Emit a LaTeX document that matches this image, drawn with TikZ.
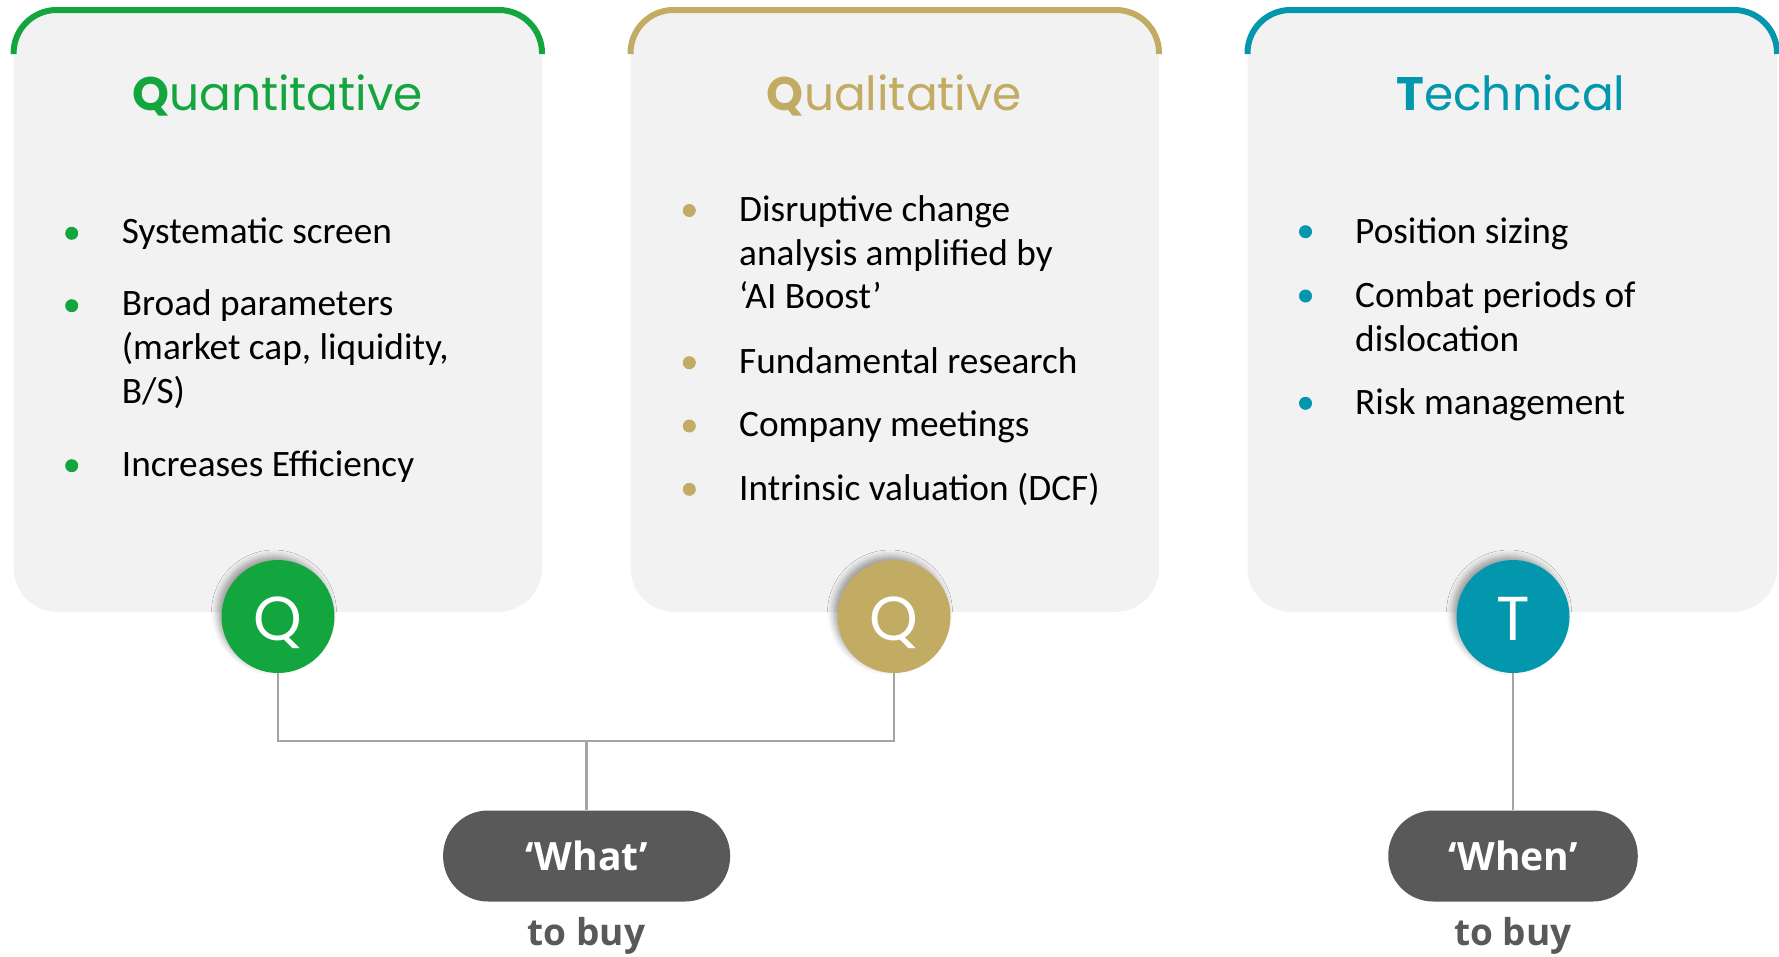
\documentclass[tikz,border=0pt]{standalone}
\usepackage{fontspec}
\setmainfont{Carlito}
\newfontfamily\titlefont{Poppins}
\newfontfamily\pillfont{Open Sans}
\usetikzlibrary{shadows.blur}
\definecolor{qgreen}{RGB}{19,165,62}
\definecolor{qgold}{RGB}{194,171,99}
\definecolor{tteal}{RGB}{3,151,174}
\definecolor{panelgray}{RGB}{242,242,242}
\definecolor{pillgray}{RGB}{89,89,89}
\definecolor{linegray}{RGB}{165,165,165}
\begin{document}
\begin{tikzpicture}[x=1pt,y=-1pt,
  paneltop/.style={line width=6pt, rounded corners=43pt},
  paneltitle/.style={anchor=base, inner sep=0pt, font=\titlefont\fontsize{47}{56}\selectfont},
  bodytext/.style={anchor=base west, inner sep=0pt, text=black, font=\fontsize{37.3}{44}\selectfont},
  dot/.style={circle, inner sep=0pt, minimum size=13pt},
  badge/.style={circle, inner sep=0pt, minimum size=113pt,
     blur shadow={shadow xshift=-4pt, shadow yshift=4pt, shadow blur radius=6pt, shadow opacity=35}},
  badgeletter/.style={anchor=base, inner sep=0pt, text=white, font=\titlefont\fontsize{62}{70}\selectfont},
  pill/.style={rounded corners=45pt, fill=pillgray, minimum width=#1, minimum height=91pt, inner sep=0pt,
     text=white, font=\pillfont\bfseries\fontsize{39}{46}\selectfont},
  tobuy/.style={anchor=base, inner sep=0pt, text=pillgray, font=\pillfont\bfseries\fontsize{37}{44}\selectfont},
  conn/.style={draw=linegray, line width=2.7pt}]
\useasboundingbox (0,0) rectangle (1779,956);

% panels
\fill[panelgray, rounded corners=44pt] (13.6,10) rectangle (542,612);
\fill[panelgray, rounded corners=44pt] (630.5,10) rectangle (1159,612);
\fill[panelgray, rounded corners=44pt] (1247.5,10) rectangle (1777,612);
\draw[paneltop, qgreen] (13.6,54) -- (13.6,10) -- (542,10) -- (542,54);
\draw[paneltop, qgold] (630.5,54) -- (630.5,10) -- (1159,10) -- (1159,54);
\draw[paneltop, tteal] (1247.5,54) -- (1247.5,10) -- (1777,10) -- (1777,54);

% titles
\node[paneltitle, text=qgreen] (title1) at (277.5,110) {\textbf{Q}uantitative};
\node[paneltitle, text=qgold] (title2) at (894.5,110) {\textbf{Q}ualitative};
\node[paneltitle, text=tteal] (title3) at (1511,110) {\textbf{T}echnical};

% panel 1 items
\node[dot, fill=qgreen] (b11) at (71.7,233.3) {};
\node[bodytext] (t11) at (121.7,243.3) {Systematic screen};
\node[dot, fill=qgreen] (b12) at (71.7,305.7) {};
\node[bodytext] (t12a) at (121.7,315) {Broad parameters};
\node[bodytext] (t12b) at (121.7,359) {(market cap, liquidity,};
\node[bodytext] (t12c) at (121.7,403.3) {B/S)};
\node[dot, fill=qgreen] (b13) at (71.7,465.7) {};
\node[bodytext] (t13) at (121.7,476.7) {Increases Efficiency};

% panel 2 items
\node[dot, fill=qgold] (b21) at (689.3,210.5) {};
\node[bodytext] (t21a) at (739,221.7) {Disruptive change};
\node[bodytext] (t21b) at (739,265) {analysis amplified by};
\node[bodytext] (t21c) at (739,308.3) {‘AI Boost’};
\node[dot, fill=qgold] (b22) at (689.3,362.7) {};
\node[bodytext] (t22) at (739,373.3) {Fundamental research};
\node[dot, fill=qgold] (b23) at (689.3,426) {};
\node[bodytext] (t23) at (739,436.7) {Company meetings};
\node[dot, fill=qgold] (b24) at (689.3,489.3) {};
\node[bodytext] (t24) at (739,500) {Intrinsic valuation (DCF)};

% panel 3 items
\node[dot, fill=tteal] (b31) at (1305.5,231.7) {};
\node[bodytext] (t31) at (1355,243.3) {Position sizing};
\node[dot, fill=tteal] (b32) at (1305.5,296) {};
\node[bodytext] (t32a) at (1355,307.3) {Combat periods of};
\node[bodytext] (t32b) at (1355,351.7) {dislocation};
\node[dot, fill=tteal] (b33) at (1305.5,403.3) {};
\node[bodytext] (t33) at (1355,414) {Risk management};

% pills
\node[pill=287pt] (what) at (586.6,856) {‘What’};
\node[tobuy] (buy1) at (586.6,945) {to buy};
\node[pill=249.5pt] (when) at (1513,856) {‘When’};
\node[tobuy] (buy2) at (1513,945) {to buy};

% connectors
\coordinate (j) at (586.6,741);
\node[badge, fill=qgreen] (q1) at (278,616.5) {};
\node[badge, fill=qgold] (q2) at (894,616.5) {};
\node[badge, fill=tteal] (t1) at (1513,616.5) {};
\draw[conn] (q1.south) |- (j) -| (q2.south);
\draw[conn] (j) -- (what.north);
\draw[conn] (t1.south) -- (when.north);

% badge letters
\node[badgeletter] (q1l) at (278,640) {Q};
\node[badgeletter] (q2l) at (894,640) {Q};
\node[badgeletter] (t1l) at (1513,640) {T};
\end{tikzpicture}
\end{document}
